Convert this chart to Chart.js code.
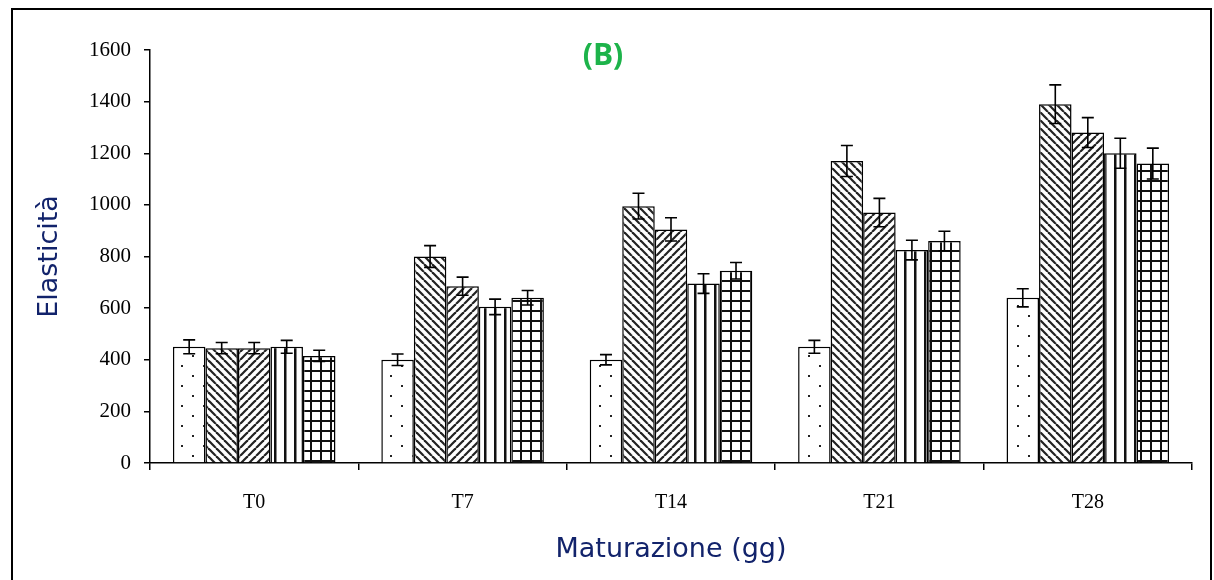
<!DOCTYPE html>
<html>
<head>
<meta charset="utf-8">
<script src="https://cdn.jsdelivr.net/npm/chart.js@4"></script>
<style>
  html, body { margin: 0; padding: 0; background: #fff; }
  canvas { display: block; }
</style>
</head>
<body>
<canvas id="c" width="1214" height="580"></canvas>
<script>
// ---- Data ----
const categories = ['T0', 'T7', 'T14', 'T21', 'T28'];
const yTicks = [0, 200, 400, 600, 800, 1000, 1200, 1400, 1600];
const series1 = [450, 400, 400, 450, 640];
const series2 = [445, 800, 995, 1170, 1390];
const series3 = [445, 685, 905, 970, 1280];
const series4 = [450, 605, 695, 825, 1200];
const series5 = [415, 640, 745, 860, 1160];
const err1 = [27, 22, 20, 25, 35];
const err2 = [22, 42, 50, 60, 75];
const err3 = [22, 35, 45, 55, 58];
const err4 = [25, 30, 38, 38, 58];
const err5 = [22, 28, 32, 38, 60];
const titleText = '(B)';
const xTitle = 'Maturazione (gg)';
const yTitle = 'Elasticità';

// ---- Patterns ----
function makeTile(w, h, draw) {
  const c = document.createElement('canvas');
  c.width = w; c.height = h;
  const g = c.getContext('2d');
  g.fillStyle = '#fff';
  g.fillRect(0, 0, w, h);
  draw(g, w, h);
  return document.getElementById('c').getContext('2d').createPattern(c, 'repeat');
}
const patDots = makeTile(22, 20, (g) => {
  g.fillStyle = '#222';
  g.fillRect(5, 5, 2, 2);
  g.fillRect(16, 15, 2, 2);
});
const patDown = makeTile(8, 8, (g, w, h) => {
  g.strokeStyle = '#222'; g.lineWidth = 2.2;
  for (let i = -1; i <= 1; i++) {
    g.beginPath(); g.moveTo(i * w, 0); g.lineTo(i * w + w, h); g.stroke();
  }
});
const patUp = makeTile(8, 8, (g, w, h) => {
  g.strokeStyle = '#222'; g.lineWidth = 2.2;
  for (let i = -1; i <= 1; i++) {
    g.beginPath(); g.moveTo(i * w, h); g.lineTo(i * w + w, 0); g.stroke();
  }
});
const patVert = makeTile(10, 10, (g) => {
  g.fillStyle = '#111';
  g.fillRect(4, 0, 2.5, 10);
});
const patGrid = makeTile(10, 10, (g) => {
  g.fillStyle = '#111';
  g.fillRect(0, 0, 2, 10);
  g.fillRect(0, 0, 10, 2);
});

const errors = [err1, err2, err3, err4, err5];

const frameAndTitle = {
  id: 'frameAndTitle',
  beforeDraw(chart) {
    const ctx = chart.ctx;
    ctx.save();
    ctx.fillStyle = '#fff';
    ctx.fillRect(0, 0, chart.width, chart.height);
    ctx.strokeStyle = '#000';
    ctx.lineWidth = 2;
    ctx.strokeRect(12, 9, 1199, 620);
    ctx.restore();
  },
  afterDraw(chart) {
    const ctx = chart.ctx;
    ctx.save();
    ctx.fillStyle = '#1db34a';
    ctx.font = 'bold 30px "Open Sans", sans-serif';
    ctx.textAlign = 'center';
    ctx.textBaseline = 'middle';
    ctx.fillText(titleText, 603, 56);
    ctx.restore();
  }
};

const errorBars = {
  id: 'errorBars',
  afterDatasetsDraw(chart) {
    const ctx = chart.ctx;
    const ys = chart.scales.y;
    ctx.save();
    ctx.strokeStyle = '#000';
    ctx.lineWidth = 1.6;
    chart.data.datasets.forEach((ds, i) => {
      const meta = chart.getDatasetMeta(i);
      meta.data.forEach((bar, j) => {
        const v = ds.data[j], e = errors[i][j];
        const x = bar.x;
        const yTop = ys.getPixelForValue(v + e);
        const yBot = ys.getPixelForValue(v - e);
        ctx.beginPath();
        ctx.moveTo(x, yTop); ctx.lineTo(x, yBot);
        ctx.moveTo(x - 6, yTop); ctx.lineTo(x + 6, yTop);
        ctx.moveTo(x - 6, yBot); ctx.lineTo(x + 6, yBot);
        ctx.stroke();
      });
    });
    ctx.restore();
  }
};

const fills = [patDots, patDown, patUp, patVert, patGrid];
const seriesData = [series1, series2, series3, series4, series5];

new Chart(document.getElementById('c'), {
  type: 'bar',
  data: {
    labels: categories,
    datasets: seriesData.map((d, i) => ({
      label: 'Serie ' + (i + 1),
      data: d,
      backgroundColor: fills[i],
      borderColor: '#000',
      borderWidth: 1.5,
      borderSkipped: 'bottom',
      categoryPercentage: 0.78,
      barPercentage: 1.0
    }))
  },
  options: {
    responsive: false,
    animation: false,
    layout: { padding: { left: 30, right: 22, top: 50, bottom: 0 } },
    plugins: { legend: { display: false }, tooltip: { enabled: false } },
    scales: {
      x: {
        grid: { display: true, drawOnChartArea: false, drawTicks: true, tickLength: 7, color: '#000', lineWidth: 1.5, offset: true },
        border: { display: true, color: '#000', width: 1.5 },
        ticks: { color: '#000', font: { family: '"Liberation Serif", serif', size: 20 }, padding: 21 },
        title: { display: true, text: xTitle, color: '#12236b', font: { family: '"DejaVu Sans", sans-serif', size: 27 }, padding: { top: 4, bottom: 14 } },
        afterFit(scale) { scale.height = 117; }
      },
      y: {
        min: 0, max: 1600,
        afterBuildTicks(scale) { scale.ticks = yTicks.map(v => ({ value: v })); },
        grid: { display: true, drawOnChartArea: false, drawTicks: true, tickLength: 6, color: '#000', lineWidth: 1.5 },
        border: { display: true, color: '#000', width: 1.5 },
        ticks: { color: '#000', font: { family: '"Liberation Serif", serif', size: 21 }, padding: 13, callback: (v) => String(v) },
        title: { display: true, text: yTitle, color: '#12236b', font: { family: '"DejaVu Sans", sans-serif', size: 27 }, padding: { top: 4, bottom: 4 } },
        afterFit(scale) { scale.width = 120; }
      }
    }
  },
  plugins: [frameAndTitle, errorBars]
});
</script>
</body>
</html>
